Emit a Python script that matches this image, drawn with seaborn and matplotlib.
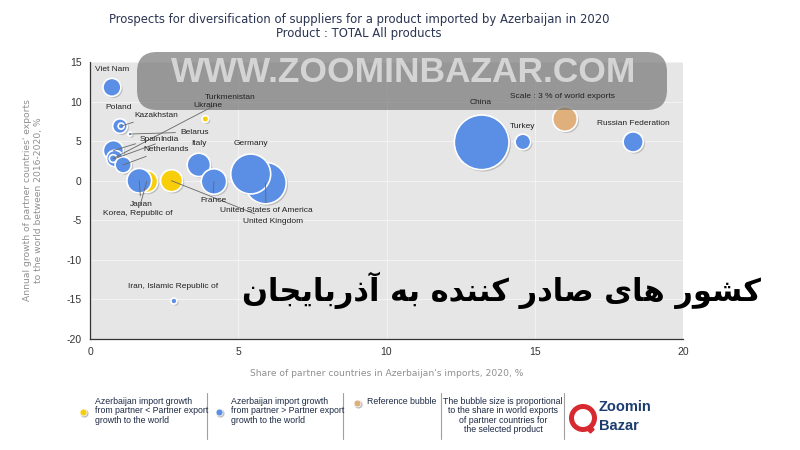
import numpy as np
import pandas as pd
import matplotlib
matplotlib.use("Agg")
import matplotlib.pyplot as plt
import seaborn as sns
from matplotlib.transforms import offset_copy
from matplotlib.patches import FancyBboxPatch, Circle, Rectangle
from matplotlib.lines import Line2D

# ---------------- data ----------------
countries = ["China", "United States of America", "Germany", "Viet Nam", "Spain",
             "Poland", "Kazakhstan", "Belarus", "India", "Turkmenistan", "Netherlands",
             "Korea, Republic of", "Japan", "United Kingdom", "Italy", "France",
             "Ukraine", "Iran, Islamic Republic of", "Turkey", "Russian Federation",
             "Reference"]
share_imports = [13.21, 5.92, 5.42, 0.74, 0.79, 1.01, 1.05, 1.35, 0.84, 0.78, 1.12,
                 1.91, 1.66, 2.75, 3.67, 4.18, 3.89, 2.83, 14.60, 18.32, 16.02]
export_growth = [4.85, -0.3, 0.85, 11.8, 3.8, 6.9, 6.9, 5.9, 2.8, 2.8, 2.0,
                 -0.1, 0.0, 0.0, 2.0, -0.1, 7.8, -15.2, 4.9, 4.9, 7.8]
world_share = [14.8, 8.5, 7.9, 1.6, 2.0, 1.06, 0.18, 0.08, 1.37, 0.3, 1.3,
               2.4, 3.0, 2.4, 2.7, 3.2, 0.22, 0.18, 1.2, 2.0, 3.0]
group = ["higher", "higher", "higher", "higher", "higher", "higher", "higher", "higher",
         "higher", "higher", "higher", "lower", "higher", "lower", "higher", "higher",
         "lower", "higher", "higher", "higher", "reference"]

x_ticks = [0, 5, 10, 15, 20]
y_ticks = [-20, -15, -10, -5, 0, 5, 10, 15]

title_lines = ["Prospects for diversification of suppliers for a product imported by Azerbaijan in 2020",
               "Product : TOTAL All products"]
x_label = "Share of partner countries in Azerbaijan's imports, 2020, %"
y_label = "Annual growth of partner countries' exports\nto the world between 2016-2020, %"

# label placement (layout only): name -> (x, y, ha, draw leader line)
label_pos = {
    "Viet Nam": (0.17, 14.1, "left", False),
    "Turkmenistan": (3.88, 10.55, "left", True),
    "Ukraine": (3.47, 9.45, "left", False),
    "Poland": (0.98, 9.2, "center", False),
    "Kazakhstan": (1.48, 8.3, "left", True),
    "Belarus": (3.04, 6.15, "left", True),
    "Spain": (1.69, 5.27, "left", True),
    "India": (2.36, 5.27, "left", True),
    "Netherlands": (1.79, 4.0, "left", True),
    "Italy": (3.68, 4.64, "center", False),
    "Germany": (5.43, 4.76, "center", False),
    "Japan": (1.72, -2.95, "center", True),
    "Korea, Republic of": (1.62, -4.08, "center", True),
    "France": (4.15, -2.55, "center", True),
    "United States of America": (5.94, -3.8, "center", True),
    "United Kingdom": (6.17, -5.1, "center", True),
    "Iran, Islamic Republic of": (2.8, -13.4, "center", False),
    "China": (13.19, 9.94, "center", False),
    "Turkey": (14.6, 6.9, "center", False),
    "Russian Federation": (18.31, 7.2, "center", False),
    "Reference": (15.95, 10.7, "center", False),
}
label_text = {"Reference": "Scale : 3 % of world exports"}

palette = {"lower": "#f8cd0a", "higher": "#5b8fe6", "reference": "#dfb07c"}

df = pd.DataFrame({"country": countries, "x": share_imports, "y": export_growth,
                   "w": world_share, "group": group})
k = 104.7  # points^2 per % of world exports
df["s"] = df["w"] * k

# ---------------- figure ----------------
sns.set_style("white")
plt.rcParams["font.family"] = ["DejaVu Sans"]
plt.rcParams["axes.unicode_minus"] = False

fig = plt.figure(figsize=(8, 4.5), dpi=100)
ax = fig.add_axes([90 / 800, 1 - 339 / 450, 593 / 800, 277 / 450])
ax.set_facecolor("#e6e6e6")

# shadows
shadow_tr = offset_copy(ax.transData, fig=fig, x=1.6, y=-1.6, units="dots")
ax.scatter(df["x"], df["y"], s=df["s"] * 1.02, color="#8c8c8c", alpha=0.45,
           linewidths=0, transform=shadow_tr, zorder=2)

sns.scatterplot(data=df, x="x", y="y", hue="group", palette=palette, s=df["s"],
                edgecolor="white", linewidth=1.2, legend=False, ax=ax, zorder=3)

ax.set_xlim(0, 20)
ax.set_ylim(-20, 15)
ax.set_xticks(x_ticks)
ax.set_yticks(y_ticks)
ax.grid(True, color="#f3f3f3", lw=0.7)
ax.set_axisbelow(True)
sns.despine(ax=ax)
for sp in ["left", "bottom"]:
    ax.spines[sp].set_color("#333333")
    ax.spines[sp].set_linewidth(0.9)
ax.tick_params(direction="out", length=4, width=0.8, color="#333333",
               labelsize=7.5, labelcolor="#333333", pad=2)
for t in ax.get_xticklabels() + ax.get_yticklabels():
    t.set_family("Liberation Sans")
ax.set_xlabel("")
ax.set_ylabel("")
ax.text(0.5, -0.123, x_label, transform=ax.transAxes, ha="center", va="center",
        fontsize=6.6, color="#8f8f8f")
ax.text(-0.096, 0.5, y_label, transform=ax.transAxes, ha="center", va="center",
        rotation=90, fontsize=6.6, color="#8f8f8f", linespacing=1.3)

# labels: leader lines in the axes, visible text on top of everything
lab_kw = dict(va="center", fontsize=6, family="Liberation Sans")
for _, row in df.iterrows():
    name = row["country"]
    if name not in label_pos:
        continue
    lx, ly, ha, line = label_pos[name]
    txt = label_text.get(name, name)
    if line:
        ax.annotate(txt, xy=(row["x"], row["y"]), xytext=(lx, ly), textcoords="data",
                    ha=ha, color="none", zorder=6,
                    arrowprops=dict(arrowstyle="-", color="#666666", lw=0.6,
                                    shrinkA=1, shrinkB=0), **lab_kw)
    fig.text(lx, ly, txt, transform=ax.transData, ha=ha, color="#222222",
             zorder=13, **lab_kw)

# title
fig.text(359 / 800, 1 - 19 / 450, title_lines[0], ha="center", va="center",
         fontsize=8.4, color="#2b3552")
fig.text(359 / 800, 1 - 34 / 450, title_lines[1], ha="center", va="center",
         fontsize=8.4, color="#2b3552")

# watermark box
wm = FancyBboxPatch((1.37, (450 - 110) / 100), 5.30, 0.58,
                    boxstyle="round,pad=0,rounding_size=0.2",
                    transform=fig.dpi_scale_trans, facecolor="#6e6e6e",
                    edgecolor="none", alpha=0.66, zorder=10)
fig.add_artist(wm)
fig.text(404 / 800, 1 - 73 / 450, "WWW.ZOOMINBAZAR.COM", ha="center", va="center",
         fontsize=25.5, fontweight="bold", color="#d4d4d4",
         family="Liberation Sans", zorder=11)

# Persian caption (presentation forms in visual order)
w6 = "\uFEE5\uFE8E\uFEA0\uFEF3\uFE8E\uFE91\uFEAD\uFEAB\uFE81"
w5 = "\uFEEA\uFE91"
w4 = "\uFEE9\uFEAA\uFEE8\uFEE8\uFB90"
w3 = "\uFEAD\uFEA9\uFE8E\uFEBB"
w2 = "\uFEEF\uFE8E\uFEEB"
w1 = "\uFEAD\uFEEE\uFEB8\uFB90"
persian = " ".join([w6, w5, w4, w3, w2, w1])
fig.text(501 / 800, 1 - 290 / 450, persian, ha="center", va="center",
         fontsize=22, fontweight="bold", color="black", family="DejaVu Sans", zorder=12)

# custom legend
def fpx(x, y):
    return x / 800, 1 - y / 450

for xs in [207, 343, 441, 564]:
    fig.add_artist(Line2D([xs / 800, xs / 800], [1 - 393 / 450, 1 - 439 / 450],
                          color="#a0a0a0", lw=0.8, transform=fig.transFigure))

leg_items = [(83, 412, palette["lower"]), (219, 412, palette["higher"]),
             (357, 403, palette["reference"])]
for lx, ly, c in leg_items:
    fig.add_artist(Line2D([(lx + 1) / 800], [1 - (ly + 1) / 450], marker="o",
                          markersize=5, color="#a8a8a8", lw=0, alpha=0.6,
                          transform=fig.transFigure))
    fig.add_artist(Line2D([lx / 800], [1 - ly / 450], marker="o", markersize=5,
                          color=c, markeredgecolor="white", markeredgewidth=0.5,
                          lw=0, transform=fig.transFigure))

leg_kw = dict(fontsize=6.3, color="#1d2a45", family="Liberation Sans",
              linespacing=1.05, va="top")
fig.text(*fpx(95, 397), "Azerbaijan import growth\nfrom partner < Partner export\ngrowth to the world",
         ha="left", **leg_kw)
fig.text(*fpx(231, 397), "Azerbaijan import growth\nfrom partner > Partner export\ngrowth to the world",
         ha="left", **leg_kw)
fig.text(*fpx(367, 397), "Reference bubble", ha="left", **leg_kw)
fig.text(*fpx(503, 397), "The bubble size is proportional\nto the share in world exports\nof partner countries for\nthe selected product",
         ha="center", **leg_kw)

# logo
fig.add_artist(Circle((5.83, (450 - 418) / 100), 0.115, transform=fig.dpi_scale_trans,
                      fill=False, edgecolor="#d62a30", lw=3.6))
fig.add_artist(Rectangle((5.905, (450 - 433) / 100), 0.05, 0.05,
                         transform=fig.dpi_scale_trans, color="#d62a30", angle=45))
fig.text(*fpx(599, 407), "Zoomin", ha="left", va="center", fontsize=10.5,
         fontweight="bold", color="#1c3d6f", family="Liberation Sans")
fig.text(*fpx(599, 426), "Bazar", ha="left", va="center", fontsize=10.5,
         fontweight="bold", color="#1c3d6f", family="Liberation Sans")

fig.savefig("out.png", dpi=100, facecolor="white")
